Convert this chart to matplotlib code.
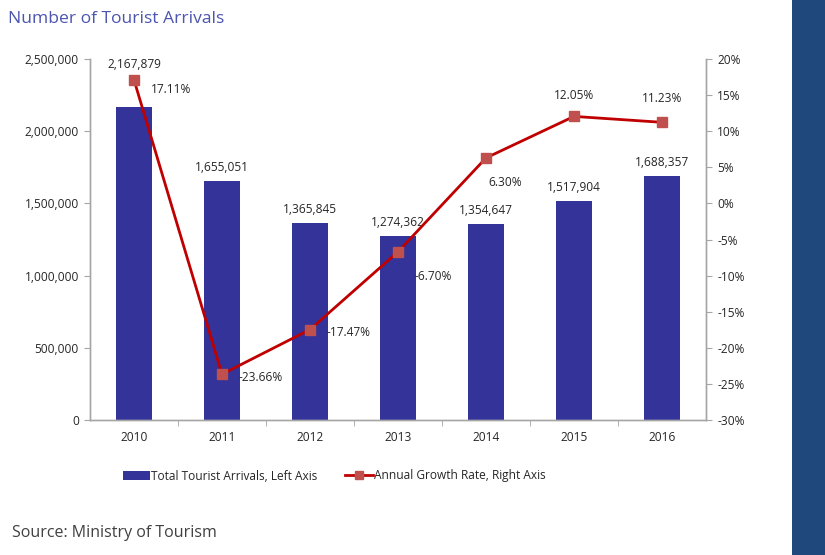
import numpy as np
import matplotlib.pyplot as plt
from matplotlib.ticker import FuncFormatter, FixedLocator
from matplotlib.lines import Line2D
from matplotlib.patches import Patch

years = ["2010", "2011", "2012", "2013", "2014", "2015", "2016"]
arrivals = [2167879, 1655051, 1365845, 1274362, 1354647, 1517904, 1688357]
growth = [17.11, -23.66, -17.47, -6.70, 6.30, 12.05, 11.23]

# where each growth label sits relative to its marker (points)
growth_offsets = [(12, -7), (12, -2), (12, -2), (12, -18), (2, -18), (0, 15), (0, 17)]
growth_ha = ["left", "left", "left", "left", "left", "center", "center"]

plt.rcParams["font.family"] = ["Open Sans", "DejaVu Sans"]

bar_color = "#333399"
line_color = "#C00000"
marker_color = "#C0504D"
axis_color = "#A6A6A6"
text_color = "#262626"
fs = 8.6

fig = plt.figure(figsize=(8.25, 5.55), dpi=100)
ax = fig.add_axes([90 / 825, 1 - 420 / 555, 616 / 825, 361 / 555])
ax2 = ax.twinx()

x = np.arange(len(years))
ax.bar(x, arrivals, width=0.41, color=bar_color, zorder=2)
ax.set_xlim(-0.5, len(years) - 0.5)
ax.set_ylim(0, 2500000)
ax.set_yticks(np.arange(0, 2500001, 500000))
ax.yaxis.set_major_formatter(FuncFormatter(lambda v, p: f"{int(v):,}"))
ax.set_xticks(x)
ax.set_xticklabels(years)
ax.xaxis.set_minor_locator(FixedLocator(np.arange(0.5, len(years) - 0.5, 1)))
ax.tick_params(axis="x", which="major", length=0, pad=8, labelsize=fs, labelcolor=text_color)
ax.tick_params(axis="x", which="minor", length=4, color=axis_color, direction="out")
ax.tick_params(axis="y", length=4, color=axis_color, labelsize=fs, labelcolor=text_color, pad=4)

for i, v in enumerate(arrivals):
    y = v + 50000
    if i == 0:
        y = 2420000
    ax.text(i, y, f"{v:,}", ha="center", va="bottom", fontsize=fs, color=text_color)

ax2.plot(x, growth, color=line_color, lw=2, marker="s", markersize=7,
         markerfacecolor=marker_color, markeredgecolor=marker_color, zorder=3)
ax2.set_ylim(-30, 20)
ax2.set_yticks(np.arange(-30, 21, 5))
ax2.yaxis.set_major_formatter(FuncFormatter(lambda v, p: f"{int(v)}%"))
ax2.tick_params(axis="y", length=4, color=axis_color, labelsize=fs, labelcolor=text_color, pad=4)

for i, g in enumerate(growth):
    ax2.annotate(f"{g:.2f}%", (i, g), xytext=growth_offsets[i], textcoords="offset points",
                 ha=growth_ha[i], va="center", fontsize=fs, color=text_color)

for a in (ax, ax2):
    a.spines["top"].set_visible(False)
    for s in ("left", "right", "bottom"):
        a.spines[s].set_color(axis_color)
        a.spines[s].set_linewidth(1)

fig.text(8 / 825, 1 - 19 / 555, "Number of Tourist Arrivals", fontsize=12.6,
         color="#4C55B0", va="center", ha="left")
fig.text(12 / 825, 1 - 533 / 555, "Source: Ministry of Tourism", fontsize=11.5,
         color="#404040", va="center", ha="left")

handles = [Patch(facecolor=bar_color),
           Line2D([0], [0], color=line_color, lw=2, marker="s", markersize=6,
                  markerfacecolor=marker_color, markeredgecolor=marker_color)]
fig.legend(handles, ["Total Tourist Arrivals, Left Axis", "Annual Growth Rate, Right Axis"],
           loc="center", bbox_to_anchor=(334 / 825, 1 - 476 / 555), ncol=2, frameon=False,
           fontsize=fs, handlelength=2.3, handletextpad=0.1, columnspacing=2.3,
           labelcolor=text_color)

# dark band down the right edge
fig.patches.append(plt.Rectangle((792 / 825, 0), 33 / 825, 1, transform=fig.transFigure,
                                 facecolor="#1F497D", edgecolor="none", zorder=0))

fig.savefig("out.png", dpi=100)
